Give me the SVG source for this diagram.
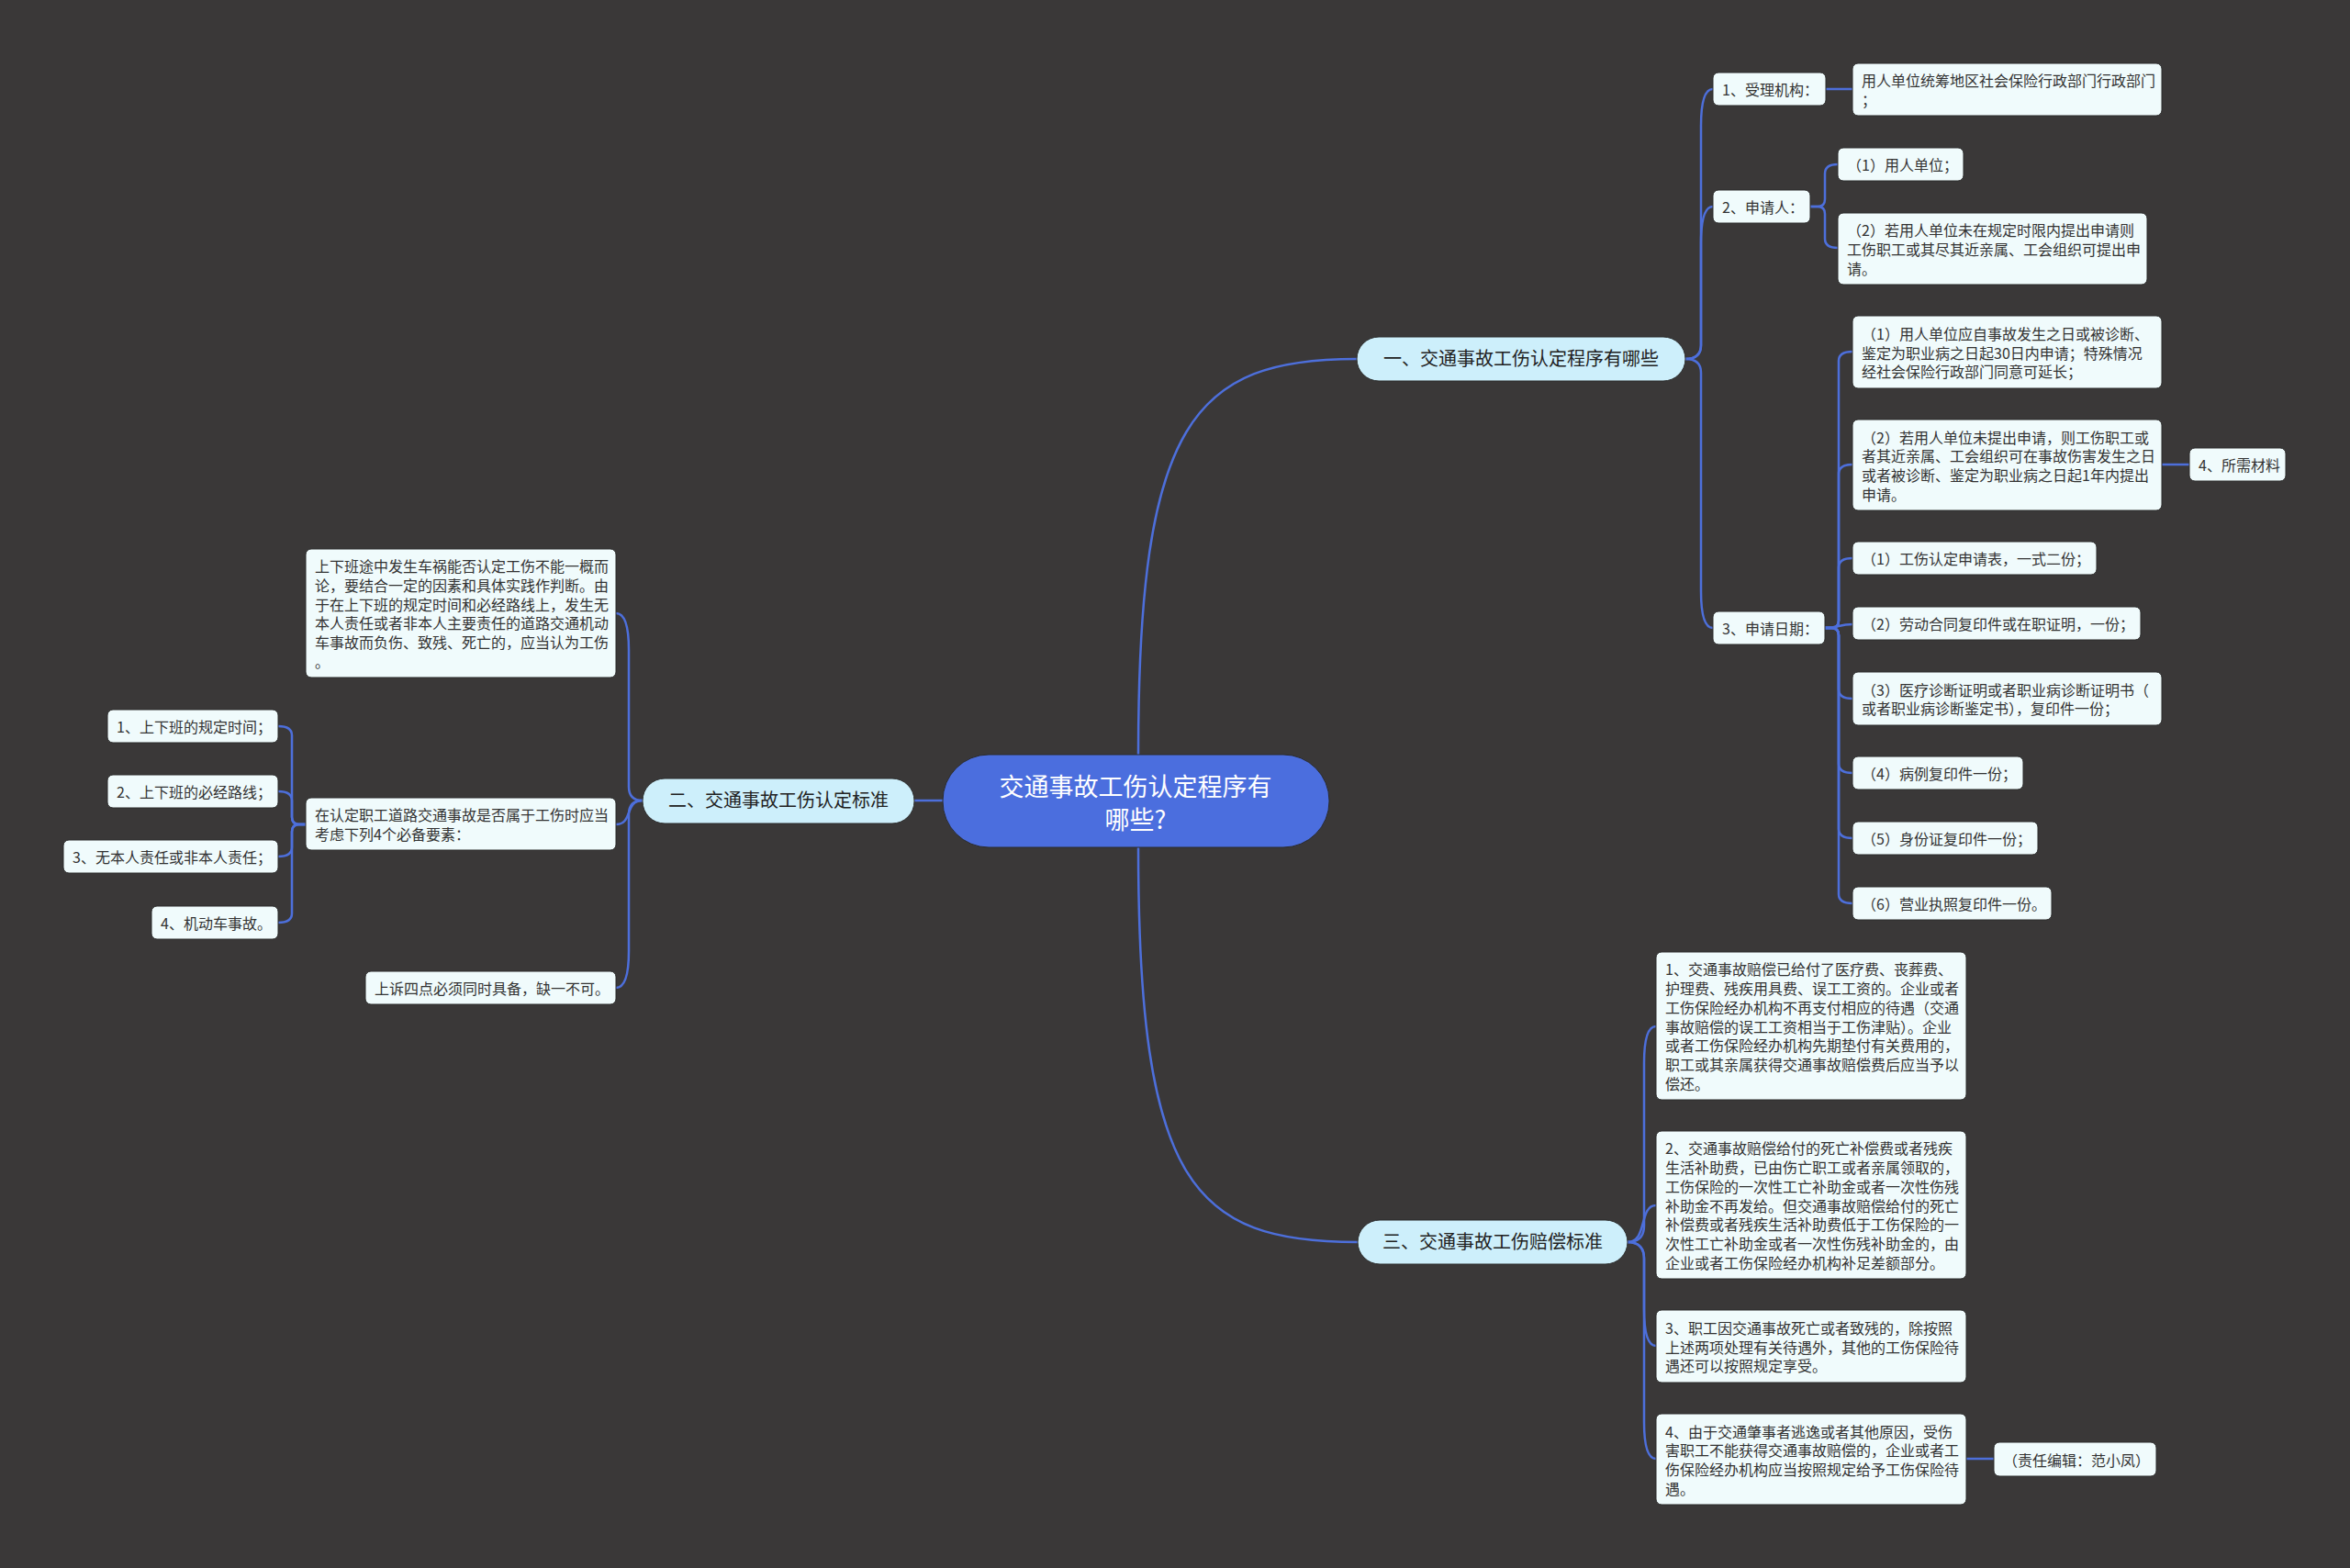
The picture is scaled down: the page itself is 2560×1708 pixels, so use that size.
<svg xmlns="http://www.w3.org/2000/svg" width="2560" height="1708" viewBox="0 0 2560 1708">
<style>
.bg{fill:#3a3838}
.ln{fill:none;stroke:#4d6fdb;stroke-width:2.5;stroke-linecap:round}
.box{fill:#f0fbfc;stroke:#2a2a2a;stroke-width:1}
.br{fill:#cdeffb;stroke:#2a2a2a;stroke-width:1}
.ctr{fill:#4b6ede;stroke:#2a2a2a;stroke-width:1}
.t{font-family:"Noto Sans CJK SC","Microsoft YaHei",sans-serif;font-size:16px;fill:#333333}
.tb{font-family:"Noto Sans CJK SC","Microsoft YaHei",sans-serif;font-size:20px;fill:#222222;text-anchor:middle}
.tc{font-family:"Noto Sans CJK SC","Microsoft YaHei",sans-serif;font-size:27px;fill:#ffffff;text-anchor:middle}
</style>
<rect class="bg" x="0" y="0" width="2560" height="1708"/>

<g id="connectors">
<path class="ln" d="M 1240 822 C 1240 460 1300 391 1478 391"/>
<path class="ln" d="M 1240 923 C 1240 1290 1300 1353 1479 1353"/>
<path class="ln" d="M 1027 872 H 996"/>

<path class="ln" d="M 1836 391 Q 1853 391 1853 376 V 137 Q 1853 97 1866 97"/>
<path class="ln" d="M 1836 391 Q 1853 391 1853 376 V 265 Q 1853 225 1866 225"/>
<path class="ln" d="M 1836 391 Q 1853 391 1853 406 V 644 Q 1853 684 1866 684"/>
<path class="ln" d="M 1989 97 H 2018"/>
<path class="ln" d="M 1972 225 H 1980 Q 1988 225 1988 217 V 189 Q 1988 179 2002 179"/>
<path class="ln" d="M 1972 225 H 1980 Q 1988 225 1988 233 V 260 Q 1988 270 2002 270"/>

<path class="ln" d="M 1988 684 H 1995 Q 2003 684 2003 676 V 393 Q 2003 383 2018 383"/>
<path class="ln" d="M 1988 684 H 1995 Q 2003 684 2003 676 V 516 Q 2003 506 2018 506"/>
<path class="ln" d="M 1988 684 H 1995 Q 2003 684 2003 676 V 618 Q 2003 608 2018 608"/>
<path class="ln" d="M 1988 684 C 2003 684 2003 680 2018 680"/>
<path class="ln" d="M 1988 684 H 1995 Q 2003 684 2003 692 V 751 Q 2003 761 2018 761"/>
<path class="ln" d="M 1988 684 H 1995 Q 2003 684 2003 692 V 832 Q 2003 842 2018 842"/>
<path class="ln" d="M 1988 684 H 1995 Q 2003 684 2003 692 V 903 Q 2003 913 2018 913"/>
<path class="ln" d="M 1988 684 H 1995 Q 2003 684 2003 692 V 974 Q 2003 984 2018 984"/>
<path class="ln" d="M 2355 506 H 2385"/>

<path class="ln" d="M 1773 1353 Q 1791 1353 1791 1335 V 1158 Q 1791 1118 1804 1118"/>
<path class="ln" d="M 1773 1353 C 1795 1353 1785 1313 1804 1313"/>
<path class="ln" d="M 1773 1353 Q 1791 1353 1791 1371 V 1426 Q 1791 1466 1804 1466"/>
<path class="ln" d="M 1773 1353 Q 1791 1353 1791 1371 V 1549 Q 1791 1589 1804 1589"/>
<path class="ln" d="M 2142 1589 H 2172"/>

<path class="ln" d="M 700 872 Q 685 872 685 857 V 708 Q 685 668 671 668"/>
<path class="ln" d="M 700 872 C 680 872 690 898 671 898"/>
<path class="ln" d="M 700 872 Q 685 872 685 887 V 1036 Q 685 1076 671 1076"/>
<path class="ln" d="M 333 898 H 326 Q 318 898 318 890 V 801 Q 318 791 303 791"/>
<path class="ln" d="M 333 898 H 326 Q 318 898 318 890 V 872 Q 318 862 303 862"/>
<path class="ln" d="M 333 898 H 326 Q 318 898 318 906 V 923 Q 318 933 303 933"/>
<path class="ln" d="M 333 898 H 326 Q 318 898 318 906 V 995 Q 318 1005 303 1005"/>
</g>

<g id="central">
<rect class="ctr" x="1027" y="822" width="421" height="101" rx="50"/>
<text class="tc" x="1237" y="867">交通事故工伤认定程序有</text>
<text class="tc" x="1237" y="903">哪些?</text>
</g>

<g id="branch1">
<rect class="br" x="1478" y="367" width="358" height="48" rx="24"/>
<text class="tb" x="1657" y="398">一、交通事故工伤认定程序有哪些</text>
</g>
<g id="branch2">
<rect class="br" x="700" y="848" width="296" height="49" rx="24"/>
<text class="tb" x="848" y="879">二、交通事故工伤认定标准</text>
</g>
<g id="branch3">
<rect class="br" x="1479" y="1329" width="294" height="48" rx="24"/>
<text class="tb" x="1626" y="1360">三、交通事故工伤赔偿标准</text>
</g>

<g id="b1-jg">
<rect class="box" x="1866" y="79" width="123" height="36" rx="6"/>
<text class="t" x="1876" y="104">1、受理机构：</text>
</g>
<g id="b1-jg-1">
<rect class="box" x="2018" y="69" width="337" height="57" rx="6"/>
<text class="t" x="2028" y="94.2">用人单位统筹地区社会保险行政部门行政部门<tspan x="2028" dy="20.7">；</tspan></text>
</g>
<g id="b1-sqr">
<rect class="box" x="1866" y="207" width="106" height="36" rx="6"/>
<text class="t" x="1876" y="232">2、申请人：</text>
</g>
<g id="b1-sqr-1">
<rect class="box" x="2002" y="161" width="137" height="36" rx="6"/>
<text class="t" x="2012" y="186">（1）用人单位；</text>
</g>
<g id="b1-sqr-2">
<rect class="box" x="2002" y="232" width="337" height="78" rx="6"/>
<text class="t" x="2012" y="257.3">（2）若用人单位未在规定时限内提出申请则<tspan x="2012" dy="20.7">工伤职工或其尽其近亲属、工会组织可提出申</tspan><tspan x="2012" dy="20.7">请。</tspan></text>
</g>
<g id="b1-rq">
<rect class="box" x="1866" y="666" width="122" height="36" rx="6"/>
<text class="t" x="1876" y="691">3、申请日期：</text>
</g>
<g id="b1-rq-1">
<rect class="box" x="2018" y="344" width="337" height="79" rx="6"/>
<text class="t" x="2028" y="369.8">（1）用人单位应自事故发生之日或被诊断、<tspan x="2028" dy="20.7">鉴定为职业病之日起30日内申请；特殊情况</tspan><tspan x="2028" dy="20.7">经社会保险行政部门同意可延长；</tspan></text>
</g>
<g id="b1-rq-2">
<rect class="box" x="2018" y="457" width="337" height="99" rx="6"/>
<text class="t" x="2028" y="482.5">（2）若用人单位未提出申请，则工伤职工或<tspan x="2028" dy="20.7">者其近亲属、工会组织可在事故伤害发生之日</tspan><tspan x="2028" dy="20.7">或者被诊断、鉴定为职业病之日起1年内提出</tspan><tspan x="2028" dy="20.7">申请。</tspan></text>
</g>
<g id="b1-rq-2-cl">
<rect class="box" x="2385" y="488" width="105" height="36" rx="6"/>
<text class="t" x="2395" y="513">4、所需材料</text>
</g>
<g id="b1-rq-3">
<rect class="box" x="2018" y="590" width="266" height="36" rx="6"/>
<text class="t" x="2028" y="615">（1）工伤认定申请表，一式二份；</text>
</g>
<g id="b1-rq-4">
<rect class="box" x="2018" y="661" width="314" height="36" rx="6"/>
<text class="t" x="2028" y="686">（2）劳动合同复印件或在职证明，一份；</text>
</g>
<g id="b1-rq-5">
<rect class="box" x="2018" y="732" width="337" height="58" rx="6"/>
<text class="t" x="2028" y="757.7">（3）医疗诊断证明或者职业病诊断证明书（<tspan x="2028" dy="20.7">或者职业病诊断鉴定书），复印件一份；</tspan></text>
</g>
<g id="b1-rq-6">
<rect class="box" x="2018" y="824" width="186" height="36" rx="6"/>
<text class="t" x="2028" y="849">（4）病例复印件一份；</text>
</g>
<g id="b1-rq-7">
<rect class="box" x="2018" y="895" width="202" height="36" rx="6"/>
<text class="t" x="2028" y="920">（5）身份证复印件一份；</text>
</g>
<g id="b1-rq-8">
<rect class="box" x="2018" y="966" width="217" height="36" rx="6"/>
<text class="t" x="2028" y="991">（6）营业执照复印件一份。</text>
</g>

<g id="b3-1">
<rect class="box" x="1804" y="1037" width="338" height="161" rx="6"/>
<text class="t" x="1814" y="1062.4">1、交通事故赔偿已给付了医疗费、丧葬费、<tspan x="1814" dy="20.7">护理费、残疾用具费、误工工资的。企业或者</tspan><tspan x="1814" dy="20.7">工伤保险经办机构不再支付相应的待遇（交通</tspan><tspan x="1814" dy="20.7">事故赔偿的误工工资相当于工伤津贴）。企业</tspan><tspan x="1814" dy="20.7">或者工伤保险经办机构先期垫付有关费用的，</tspan><tspan x="1814" dy="20.7">职工或其亲属获得交通事故赔偿费后应当予以</tspan><tspan x="1814" dy="20.7">偿还。</tspan></text>
</g>
<g id="b3-2">
<rect class="box" x="1804" y="1232" width="338" height="161" rx="6"/>
<text class="t" x="1814" y="1257.4">2、交通事故赔偿给付的死亡补偿费或者残疾<tspan x="1814" dy="20.7">生活补助费，已由伤亡职工或者亲属领取的，</tspan><tspan x="1814" dy="20.7">工伤保险的一次性工亡补助金或者一次性伤残</tspan><tspan x="1814" dy="20.7">补助金不再发给。但交通事故赔偿给付的死亡</tspan><tspan x="1814" dy="20.7">补偿费或者残疾生活补助费低于工伤保险的一</tspan><tspan x="1814" dy="20.7">次性工亡补助金或者一次性伤残补助金的，由</tspan><tspan x="1814" dy="20.7">企业或者工伤保险经办机构补足差额部分。</tspan></text>
</g>
<g id="b3-3">
<rect class="box" x="1804" y="1427" width="338" height="79" rx="6"/>
<text class="t" x="1814" y="1452.8">3、职工因交通事故死亡或者致残的，除按照<tspan x="1814" dy="20.7">上述两项处理有关待遇外，其他的工伤保险待</tspan><tspan x="1814" dy="20.7">遇还可以按照规定享受。</tspan></text>
</g>
<g id="b3-4">
<rect class="box" x="1804" y="1540" width="338" height="99" rx="6"/>
<text class="t" x="1814" y="1565.5">4、由于交通肇事者逃逸或者其他原因，受伤<tspan x="1814" dy="20.7">害职工不能获得交通事故赔偿的，企业或者工</tspan><tspan x="1814" dy="20.7">伤保险经办机构应当按照规定给予工伤保险待</tspan><tspan x="1814" dy="20.7">遇。</tspan></text>
</g>
<g id="b3-4-editor">
<rect class="box" x="2172" y="1571" width="177" height="37" rx="6"/>
<text class="t" x="2182" y="1596.5">（责任编辑：范小凤）</text>
</g>

<g id="b2-1">
<rect class="box" x="333" y="598" width="338" height="140" rx="6"/>
<text class="t" x="343" y="623.3">上下班途中发生车祸能否认定工伤不能一概而<tspan x="343" dy="20.7">论，要结合一定的因素和具体实践作判断。由</tspan><tspan x="343" dy="20.7">于在上下班的规定时间和必经路线上，发生无</tspan><tspan x="343" dy="20.7">本人责任或者非本人主要责任的道路交通机动</tspan><tspan x="343" dy="20.7">车事故而负伤、致残、死亡的，应当认为工伤</tspan><tspan x="343" dy="20.7">。</tspan></text>
</g>
<g id="b2-2">
<rect class="box" x="333" y="869" width="338" height="57" rx="6"/>
<text class="t" x="343" y="894.2">在认定职工道路交通事故是否属于工伤时应当<tspan x="343" dy="20.7">考虑下列4个必备要素：</tspan></text>
</g>
<g id="b2-3">
<rect class="box" x="398" y="1058" width="273" height="36" rx="6"/>
<text class="t" x="408" y="1083">上诉四点必须同时具备，缺一不可。</text>
</g>
<g id="b2-2-1">
<rect class="box" x="117" y="773" width="186" height="36" rx="6"/>
<text class="t" x="127" y="798">1、上下班的规定时间；</text>
</g>
<g id="b2-2-2">
<rect class="box" x="117" y="844" width="186" height="36" rx="6"/>
<text class="t" x="127" y="869">2、上下班的必经路线；</text>
</g>
<g id="b2-2-3">
<rect class="box" x="69" y="915" width="234" height="36" rx="6"/>
<text class="t" x="79" y="940">3、无本人责任或非本人责任；</text>
</g>
<g id="b2-2-4">
<rect class="box" x="165" y="987" width="138" height="36" rx="6"/>
<text class="t" x="175" y="1012">4、机动车事故。</text>
</g>
</svg>
